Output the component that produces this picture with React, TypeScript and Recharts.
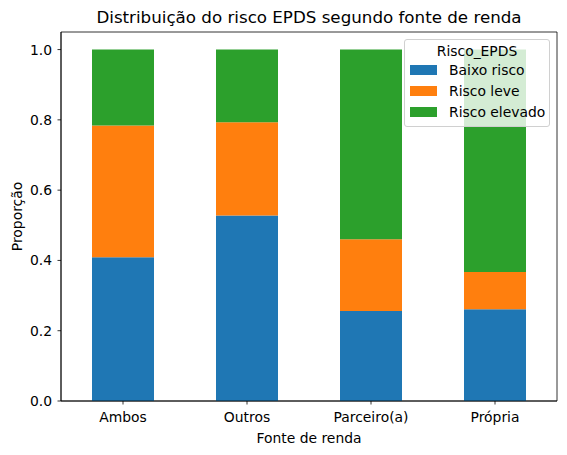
import React from "react"
import { BarChart, Bar, XAxis, YAxis, ReferenceArea } from "recharts"

const categories = ["Ambos", "Outros", "Parceiro(a)", "Própria"];
const baixoRisco = [0.409, 0.528, 0.256, 0.261];
const riscoLeve = [0.375, 0.265, 0.204, 0.106];
const riscoElevado = [0.216, 0.207, 0.540, 0.633];
const yTicks = [0, 0.2, 0.4, 0.6, 0.8, 1.0];

const series = [
    { key: "Baixo risco", values: baixoRisco, color: "#1f77b4" },
    { key: "Risco leve", values: riscoLeve, color: "#ff7f0e" },
    { key: "Risco elevado", values: riscoElevado, color: "#2ca02c" },
];

const data = categories.map((c, i) => {
    const row: any = { name: c };
    series.forEach(s => { row[s.key] = s.values[i]; });
    return row;
});

const font = "'DejaVu Sans', sans-serif";
const tickStyle = { fontSize: 13.9, fill: "#000", fontFamily: font };

const LegendBox = () => (
    <div style={{
        position: "absolute", left: 404, top: 39, width: 146,
        background: "rgba(255,255,255,0.8)", border: "1px solid #d0d0d0", borderRadius: 3,
        fontFamily: font, fontSize: 13.9, color: "#000", padding: "3px 0 4px 0",
        boxSizing: "border-box",
    }}>
        <div style={{ textAlign: "center", lineHeight: "17px" }}>Risco_EPDS</div>
        {series.map(s => (
            <div key={s.key} style={{ display: "flex", alignItems: "center", height: 20.8, paddingLeft: 5 }}>
                <span style={{ display: "inline-block", width: 27, height: 10, background: s.color, marginRight: 12 }} />
                <span>{s.key}</span>
            </div>
        ))}
    </div>
);

const YLabel = (props: any) => {
    const { viewBox } = props;
    const cy = viewBox.y + viewBox.height / 2;
    return <text x={17} y={cy} transform={`rotate(-90 17 ${cy})`} textAnchor="middle" dominantBaseline="central"
        style={{ fontSize: 13.9, fontFamily: font, fill: "#000" }}>Proporção</text>;
};

const XLabel = (props: any) => {
    const { viewBox } = props;
    const cx = viewBox.x + viewBox.width / 2;
    return <text x={cx} y={438} textAnchor="middle" dominantBaseline="central"
        style={{ fontSize: 13.9, fontFamily: font, fill: "#000" }}>Fonte de renda</text>;
};

export default function App() {
    return (
        <div style={{ position: "absolute", left: 0, top: 0, width: 567, height: 455, background: "#fff" }}>
            <div style={{
                position: "absolute", left: 61, width: 496, top: 6, textAlign: "center",
                fontFamily: font, fontSize: 16.7, color: "#000", lineHeight: "22px",
            }}>Distribuição do risco EPDS segundo fonte de renda</div>
            <BarChart width={567} height={455} data={data} barCategoryGap="25%"
                margin={{ top: 32, right: 10, left: 0, bottom: 0 }}>
                <XAxis dataKey="name" height={54} interval={0} tick={tickStyle} tickSize={3.5} tickMargin={8}
                    axisLine={{ stroke: "#000", strokeWidth: 0.8 }} tickLine={{ stroke: "#000", strokeWidth: 0.8 }}
                    label={<XLabel />} />
                <YAxis width={61} domain={[0, 1.05]} ticks={yTicks} tickFormatter={(v: number) => v.toFixed(1)}
                    tick={tickStyle} tickSize={3.5} tickMargin={5.5} allowDataOverflow
                    axisLine={{ stroke: "#000", strokeWidth: 0.8 }} tickLine={{ stroke: "#000", strokeWidth: 0.8 }}
                    label={<YLabel />} />
                {series.map(s =>
                    <Bar key={s.key} dataKey={s.key} stackId="a" fill={s.color} isAnimationActive={false} />
                )}
                <ReferenceArea y1={0} y2={1.05} fill="none" stroke="#000" strokeWidth={0.8} ifOverflow="visible" />
            </BarChart>
            <LegendBox />
        </div>
    );
}
